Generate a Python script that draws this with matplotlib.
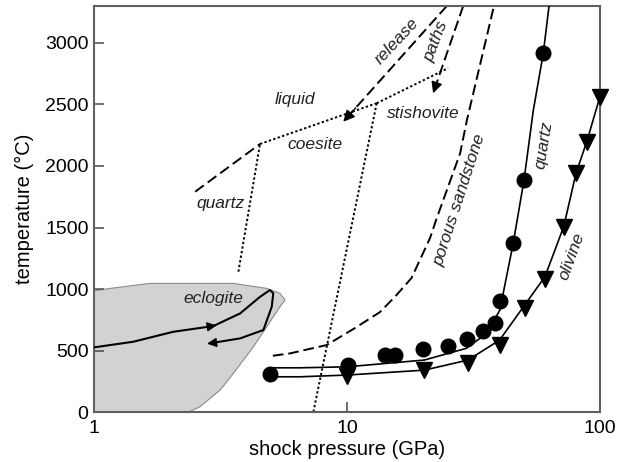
import matplotlib
matplotlib.use('Agg')
import matplotlib.pyplot as plt

# shock Hugoniot data (pressure GPa, temperature C)
quartz_p = [4.96, 10.1, 14.1, 15.5, 19.9, 25.1, 29.9, 34.6, 38.5, 40.2, 45.4, 50.1, 59.7]
quartz_t = [310, 380, 465, 465, 510, 537, 591, 661, 721, 902, 1372, 1886, 2916]
quartz_line_p = [5.05, 6.52, 10.0, 20.2, 29.6, 35.7, 40.2, 45.4, 50.1, 54.5, 59.7, 62.9]
quartz_line_t = [360, 360, 368, 423, 518, 640, 829, 1372, 1886, 2450, 2916, 3300]

olivine_p = [10.0, 20.2, 30.1, 40.1, 50.4, 60.6, 71.9, 80.4, 88.7, 100]
olivine_t = [293, 341, 396, 545, 843, 1079, 1507, 1940, 2198, 2563]
olivine_line_p = [5.05, 6.52, 10.0, 20.2, 30.1, 40.1, 50.4, 60.6, 71.9, 80.4, 88.7, 100]
olivine_line_t = [287, 287, 301, 341, 423, 585, 870, 1100, 1507, 1940, 2198, 2563]

sandstone_p = [5.09, 5.95, 8.31, 10.75, 13.5, 15.5, 17.98, 21.3, 22.5, 28.0, 29.8, 38.1]
sandstone_t = [458, 477, 545, 683, 813, 939, 1089, 1415, 1561, 2103, 2374, 3300]

# silica phase boundaries
qz_melt_p, qz_melt_t = [2.51, 4.53], [1791, 2179]
qz_coe_p, qz_coe_t = [3.72, 4.53], [1141, 2179]
coe_melt_p, coe_melt_t = [4.53, 13.1], [2179, 2510]
sti_melt_p, sti_melt_t = [13.1, 25.1], [2510, 2795]
coe_sti_p, coe_sti_t = [13.1, 7.36], [2510, 0]

# release paths (start, tip)
release1_p, release1_t = [24.8, 9.67], [3300, 2360]
release2_p, release2_t = [28.8, 21.9], [3300, 2591]

# eclogite field and P-T path
eclogite_p = [1.0, 1.157, 1.665, 3.55, 4.82, 5.43, 5.69, 5.43, 4.26, 3.55, 3.15, 2.62, 2.36, 1.0]
eclogite_t = [986, 1005, 1046, 1046, 1005, 965, 911, 856, 529, 313, 179, 43, 0, 0]
path_p = [1.0, 1.43, 2.06, 2.96, 3.78, 4.53, 4.96, 5.11, 5.04, 4.67, 3.78, 2.87]
path_t = [526, 572, 653, 699, 802, 937, 992, 965, 856, 667, 599, 559]

font = 'Liberation Sans'
plt.rcParams['font.family'] = font

fig = plt.figure(figsize=(6.23, 4.62), dpi=100)
ax = fig.add_axes([0.151, 0.108, 0.812, 0.879])

ax.fill(eclogite_p, eclogite_t, facecolor='#d2d2d2', edgecolor='#8a8a8a', lw=0.8, zorder=1)
ax.plot(path_p, path_t, color='k', lw=1.5, zorder=3)
ax.annotate('', xy=(3.05, 705), xytext=(2.80, 693),
            arrowprops=dict(arrowstyle='-|>', color='k', lw=1, mutation_scale=14,
                            shrinkA=0, shrinkB=0), zorder=4)
ax.annotate('', xy=(2.80, 556), xytext=(3.1, 568),
            arrowprops=dict(arrowstyle='-|>', color='k', lw=1, mutation_scale=14,
                            shrinkA=0, shrinkB=0), zorder=4)

dotted = dict(color='k', lw=1.4, linestyle=(0, (1.2, 1.2)))
dashed = dict(color='k', lw=1.4, linestyle=(0, (5.5, 2.5)))

ax.plot(qz_melt_p, qz_melt_t, **dashed)
ax.plot(qz_coe_p, qz_coe_t, **dotted)
ax.plot(coe_melt_p, coe_melt_t, **dotted)
ax.plot(sti_melt_p, sti_melt_t, **dotted)
ax.plot(coe_sti_p, coe_sti_t, **dotted)
ax.plot(sandstone_p, sandstone_t, **dashed)

for rp, rt in [(release1_p, release1_t), (release2_p, release2_t)]:
    ax.plot(rp, rt, **dashed)
    ax.annotate('', xy=(rp[1], rt[1]),
                xytext=(rp[1] * (rp[0] / rp[1]) ** 0.12, rt[1] + (rt[0] - rt[1]) * 0.12),
                arrowprops=dict(arrowstyle='-|>', color='k', lw=1, mutation_scale=17,
                                shrinkA=0, shrinkB=0))

ax.plot(quartz_line_p, quartz_line_t, color='k', lw=1.2, zorder=3)
ax.plot(olivine_line_p, olivine_line_t, color='k', lw=1.2, zorder=3)
ax.plot(quartz_p, quartz_t, 'o', color='k', ms=10.5, zorder=4)
ax.plot(olivine_p, olivine_t, 'v', color='k', ms=11, zorder=4, clip_on=False)

lab = dict(fontsize=12.5, style='italic', ha='center', va='center', color='#222222')
ax.text(6.22, 2537, 'liquid', **lab)
ax.text(7.47, 2171, 'coesite', **lab)
ax.text(3.15, 1699, 'quartz', **lab)
ax.text(20.0, 2429, 'stishovite', **lab)
ax.text(15.7, 3011, 'release', rotation=47, **lab)
ax.text(22.5, 3011, 'paths', rotation=69, **lab)
ax.text(27.8, 1724, 'porous sandstone', rotation=72, **lab)
ax.text(59.7, 2171, 'quartz', rotation=81, **lab)
ax.text(77.3, 1263, 'olivine', rotation=70, **lab)
ax.text(2.95, 920, 'eclogite', **lab)

ax.set_xscale('log')
ax.set_xlim(1, 100)
ax.set_ylim(0, 3300)
ax.set_xticks([1, 10, 100])
ax.set_xticklabels(['1', '10', '100'])
ax.minorticks_off()
ax.set_yticks([0, 500, 1000, 1500, 2000, 2500, 3000])
ax.tick_params(direction='in', length=7, width=1.2, labelsize=14, color='#555555')
ax.tick_params(axis='y', pad=4)
ax.tick_params(axis='x', pad=6)
for s in ax.spines.values():
    s.set_color('#606060')
    s.set_linewidth(1.5)

ax.set_xlabel('shock pressure (GPa)', fontsize=14.5, labelpad=2)
ax.set_ylabel('temperature (\u00b0C)', fontsize=14.5, labelpad=8)

fig.savefig('out.png', dpi=100)
